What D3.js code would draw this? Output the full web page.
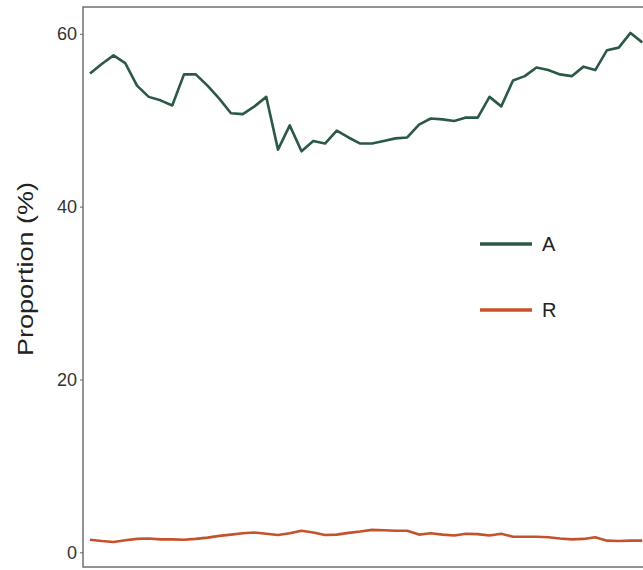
<!DOCTYPE html>
<html>
<head>
<meta charset="utf-8">
<script src="https://cdn.jsdelivr.net/npm/d3@7"></script>
<style>
  body { margin: 0; background: #fff; }
  text { font-family: "Liberation Sans", Arial, sans-serif; }
</style>
</head>
<body>
<script>
// proportion of A and R per step
var seriesA = [55.4, 56.5, 57.5, 56.6, 54.0, 52.7, 52.3, 51.7, 55.3, 55.3,
               54.0, 52.5, 50.8, 50.7, 51.6, 52.7, 46.6, 49.4, 46.4, 47.6,
               47.3, 48.8, 48.0, 47.3, 47.3, 47.6, 47.9, 48.0, 49.5, 50.2,
               50.1, 49.9, 50.3, 50.3, 52.7, 51.6, 54.6, 55.1, 56.1, 55.8,
               55.3, 55.1, 56.2, 55.8, 58.1, 58.4, 60.1, 59.0];
var seriesR = [1.45, 1.3, 1.2, 1.4, 1.55, 1.6, 1.5, 1.5, 1.45, 1.55,
               1.7, 1.9, 2.05, 2.2, 2.3, 2.15, 2.0, 2.2, 2.5, 2.3,
               2.0, 2.05, 2.25, 2.4, 2.6, 2.55, 2.5, 2.5, 2.05, 2.2,
               2.05, 1.95, 2.15, 2.1, 1.95, 2.15, 1.8, 1.8, 1.8, 1.75,
               1.6, 1.5, 1.55, 1.75, 1.35, 1.3, 1.35, 1.35];
var yTicks = [0, 20, 40, 60];
var seriesNames = ["A", "R"];
var seriesColors = ["#2a5a43", "#c4532b"];

var width = 643,
    height = 570;

var svg = d3.select("body").append("svg")
    .attr("width", width)
    .attr("height", height);

var x = d3.scaleLinear()
    .domain([0, seriesA.length - 1])
    .range([90, 642.25]);

var y = d3.scaleLinear()
    .domain([-1.7, 63.1])
    .range([567, 7]);

// panel border (right edge runs past the window)
svg.append("rect")
    .attr("x", 83)
    .attr("y", 7)
    .attr("width", 700)
    .attr("height", 560)
    .attr("fill", "none")
    .attr("stroke", "#666")
    .attr("stroke-width", 1.4);

// y axis
var yAxis = svg.append("g")
    .attr("transform", "translate(83,0)")
    .call(d3.axisLeft(y).tickValues(yTicks).tickSize(3).tickPadding(3));
yAxis.select(".domain").remove();
yAxis.selectAll("line").attr("stroke", "#666");
yAxis.selectAll("text")
    .attr("fill", "#333")
    .style("font-size", "18px");

svg.append("text")
    .attr("transform", "translate(33,269) rotate(-90)")
    .attr("text-anchor", "middle")
    .attr("fill", "#222")
    .attr("textLength", 174)
    .attr("lengthAdjust", "spacingAndGlyphs")
    .style("font-size", "22px")
    .text("Proportion (%)");

// lines
var line = d3.line()
    .x(function(d, i) { return x(i); })
    .y(function(d) { return y(d); });

[seriesA, seriesR].forEach(function(s, k) {
    svg.append("path")
        .datum(s)
        .attr("d", line)
        .attr("fill", "none")
        .attr("stroke", seriesColors[k])
        .attr("stroke-width", 2.6)
        .attr("stroke-linejoin", "round");
});

// legend
var legend = svg.selectAll(".legend")
    .data(seriesNames)
    .enter().append("g")
    .attr("class", "legend")
    .attr("transform", function(d, i) { return "translate(480," + (244 + i * 66) + ")"; });

legend.append("line")
    .attr("x1", 0)
    .attr("x2", 52)
    .attr("stroke", function(d, i) { return seriesColors[i]; })
    .attr("stroke-width", 3.5);

legend.append("text")
    .attr("x", 62)
    .attr("dy", "0.36em")
    .attr("fill", "#222")
    .style("font-size", "20px")
    .text(function(d) { return d; });
</script>
</body>
</html>
